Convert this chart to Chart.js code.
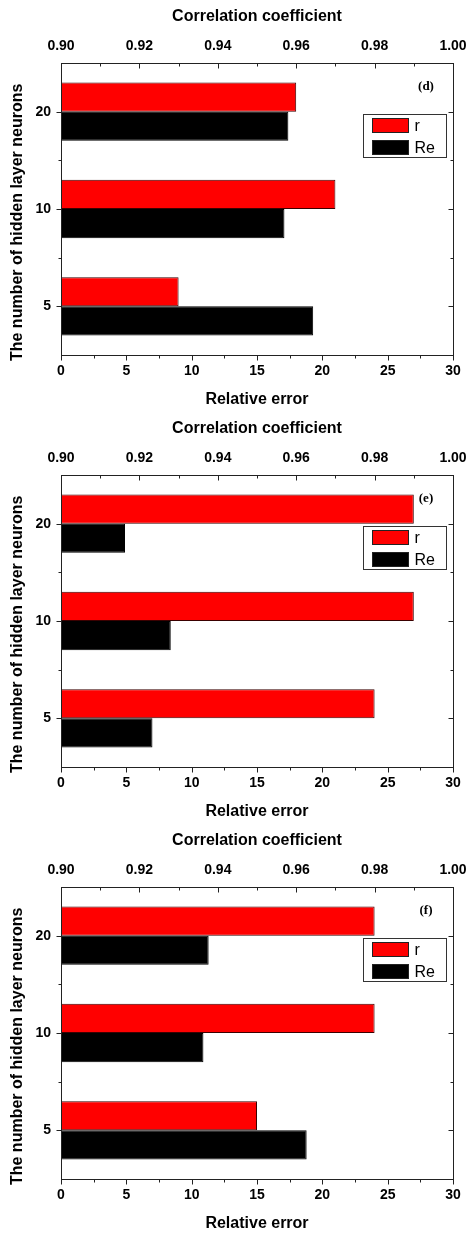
<!DOCTYPE html>
<html>
<head>
<meta charset="utf-8">
<script src="https://cdn.jsdelivr.net/npm/chart.js@4"></script>
<style>
  body { margin: 0; background: #fff; }
  canvas { position: absolute; left: 0; }
</style>
</head>
<body>
<canvas id="chartD" width="467" height="410" style="top:0px"></canvas>
<canvas id="chartE" width="467" height="410" style="top:412px"></canvas>
<canvas id="chartF" width="467" height="410" style="top:824px"></canvas>
<script>
// categories listed top to bottom
let categories = ['20', '10', '5'];
let seriesNames = ['r', 'Re'];

let rD = [0.960, 0.970, 0.930];
let reD = [17.4, 17.1, 19.3];

let rE = [0.990, 0.990, 0.980];
let reE = [4.9, 8.4, 7.0];

let rF = [0.980, 0.980, 0.950];
let reF = [11.3, 10.9, 18.8];

let panelLabels = ['(d)', '(e)', '(f)'];

Chart.defaults.font.family = '"Liberation Sans", Arial, sans-serif';
Chart.defaults.color = '#000';

function crisp(v) {
  return Math.round(v) + 0.5;
}

const frameAndLegend = {
  id: 'frameAndLegend',
  afterDraw(chart, args, opts) {
    let ctx = chart.ctx;
    let a = chart.chartArea;
    let x = chart.scales.x, xTop = chart.scales.xTop, y = chart.scales.y;
    let L = crisp(a.left), R = crisp(a.right), T = crisp(a.top), B = crisp(a.bottom);

    ctx.save();
    ctx.strokeStyle = '#222';
    ctx.lineWidth = 1;
    ctx.strokeRect(L, T, R - L, B - T);

    ctx.beginPath();
    // bottom axis: ticks point out
    x.ticks.forEach((t, i) => {
      let px = crisp(x.getPixelForValue(t.value));
      ctx.moveTo(px, B); ctx.lineTo(px, B + 5);
      if (i < x.ticks.length - 1) {
        let mx = crisp(x.getPixelForValue((t.value + x.ticks[i + 1].value) / 2));
        ctx.moveTo(mx, B); ctx.lineTo(mx, B + 3);
      }
    });
    // top axis: ticks point in
    xTop.ticks.forEach((t, i) => {
      let px = crisp(xTop.getPixelForValue(t.value));
      ctx.moveTo(px, T); ctx.lineTo(px, T + 5);
      if (i < xTop.ticks.length - 1) {
        let mx = crisp(xTop.getPixelForValue((t.value + xTop.ticks[i + 1].value) / 2));
        ctx.moveTo(mx, T); ctx.lineTo(mx, T + 3);
      }
    });
    // left ticks out, right ticks in
    categories.forEach((c, i) => {
      let py = crisp(y.getPixelForValue(i));
      ctx.moveTo(L, py); ctx.lineTo(L - 5, py);
      ctx.moveTo(R, py); ctx.lineTo(R - 5, py);
      if (i < categories.length - 1) {
        let my = crisp(y.getPixelForValue(i + 0.5));
        ctx.moveTo(L, my); ctx.lineTo(L - 3, my);
        ctx.moveTo(R, my); ctx.lineTo(R - 3, my);
      }
    });
    ctx.stroke();

    // legend box
    let bw = 83, bh = 43;
    let bx = crisp(a.right - 90), by = crisp(a.top + 51);
    ctx.fillStyle = '#fff';
    ctx.fillRect(bx, by, bw, bh);
    ctx.strokeStyle = '#333';
    ctx.strokeRect(bx, by, bw, bh);
    ctx.font = '16px "Liberation Sans", Arial, sans-serif';
    ctx.textBaseline = 'middle';
    ctx.textAlign = 'left';
    chart.data.datasets.forEach((ds, i) => {
      let sy = by + 4 + i * 22;
      ctx.fillStyle = ds.backgroundColor;
      ctx.fillRect(bx + 9, sy, 36, 14);
      ctx.strokeStyle = '#222';
      ctx.strokeRect(bx + 9, sy, 36, 14);
      ctx.fillStyle = '#000';
      ctx.fillText(ds.label, bx + 51, sy + 8);
    });

    // panel letter
    ctx.font = 'bold 13px "Liberation Serif", "Times New Roman", serif';
    ctx.textAlign = 'center';
    ctx.fillStyle = '#000';
    ctx.fillText(opts.label, a.right - 27, a.top + 24);
    ctx.restore();
  }
};

function drawPanel(canvasId, rValues, reValues, label) {
  let ctx = document.getElementById(canvasId).getContext('2d');
  return new Chart(ctx, {
    type: 'bar',
    data: {
      labels: categories,
      datasets: [{
        label: seriesNames[0],
        data: rValues,
        xAxisID: 'xTop',
        base: 0.9,
        backgroundColor: '#ff0000',
        borderColor: '#3a0000',
        borderWidth: 1
      },
      {
        label: seriesNames[1],
        data: reValues,
        xAxisID: 'x',
        backgroundColor: '#000000',
        borderColor: '#000000',
        borderWidth: 1
      }]
    },
    options: {
      indexAxis: 'y',
      responsive: false,
      animation: false,
      categoryPercentage: 0.6,
      barPercentage: 1.0,
      layout: { padding: { right: 14, top: 0, bottom: 0, left: 0 } },
      plugins: {
        legend: { display: false },
        tooltip: { enabled: false },
        frameAndLegend: { label: label }
      },
      scales: {
        y: {
          type: 'category',
          offset: true,
          grid: { display: false, drawTicks: false },
          border: { display: false },
          ticks: { font: { size: 14, weight: 'bold' }, padding: 10 },
          title: {
            display: true,
            text: 'The number of hidden layer neurons      ',
            font: { size: 16, weight: 'bold' },
            padding: { top: 8, bottom: 0 }
          },
          afterFit: s => { s.width = 61; s.paddingTop = 0; s.paddingBottom = 0; }
        },
        x: {
          type: 'linear',
          position: 'bottom',
          min: 0,
          max: 30,
          grid: { display: false, drawTicks: false },
          border: { display: false },
          ticks: { stepSize: 5, font: { size: 14, weight: 'bold' }, padding: 8 },
          title: {
            display: true,
            text: 'Relative error',
            font: { size: 16, weight: 'bold' },
            padding: { top: 0, bottom: 1 }
          },
          afterFit: s => { s.height = 55; s.paddingLeft = 0; s.paddingRight = 0; }
        },
        xTop: {
          type: 'linear',
          position: 'top',
          min: 0.9,
          max: 1.0,
          grid: { display: false, drawTicks: false },
          border: { display: false },
          ticks: {
            stepSize: 0.02,
            font: { size: 14, weight: 'bold' },
            padding: 8,
            callback: v => Number(v).toFixed(2)
          },
          title: {
            display: true,
            text: 'Correlation coefficient',
            font: { size: 16, weight: 'bold' },
            padding: { top: 7, bottom: 0 }
          },
          afterFit: s => { s.height = 63; s.paddingLeft = 0; s.paddingRight = 0; }
        }
      }
    },
    plugins: [frameAndLegend]
  });
}

drawPanel('chartD', rD, reD, panelLabels[0]);
drawPanel('chartE', rE, reE, panelLabels[1]);
drawPanel('chartF', rF, reF, panelLabels[2]);
</script>
</body>
</html>
